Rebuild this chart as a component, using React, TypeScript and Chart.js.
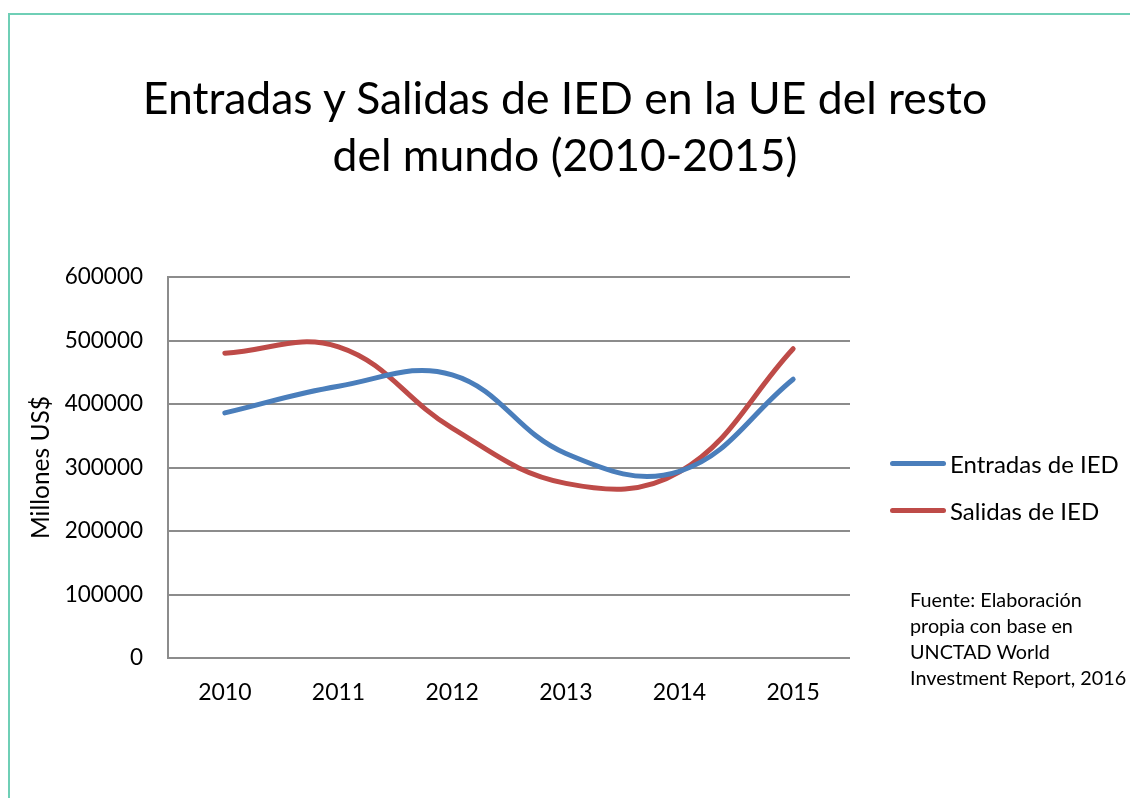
import React, { useEffect, useRef } from "react";
import { Chart, registerables } from "chart.js";

Chart.register(...registerables);

const years = ["2010", "2011", "2012", "2013", "2014", "2015"];
const entradas = [386000, 428000, 446000, 322000, 294000, 439000];
const salidas = [480000, 490000, 362000, 275000, 293000, 487000];
const yTicks = [0, 100000, 200000, 300000, 400000, 500000, 600000];
const titleLines = ["Entradas y Salidas de IED en la UE del resto", "del mundo (2010-2015)"];
const legendLabels = ["Entradas de IED", "Salidas de IED"];
const seriesColors = ["#4a7ebb", "#be4b48"];
const footnoteLines = ["Fuente: Elaboración", "propia con base en", "UNCTAD World", "Investment Report, 2016"];

const FONT = "Lato, 'Open Sans', sans-serif";

export default function App() {
  const canvasRef = useRef<HTMLCanvasElement | null>(null);

  useEffect(() => {
    if (!canvasRef.current) return;
    const chart = new Chart(canvasRef.current, {
      type: "line",
      data: {
        labels: years,
        datasets: [
          {
            label: legendLabels[0],
            data: entradas,
            borderColor: seriesColors[0],
            backgroundColor: seriesColors[0],
            borderWidth: 5,
            pointRadius: 0,
            tension: 0.4,
            borderCapStyle: "round",
          },
          {
            label: legendLabels[1],
            data: salidas,
            borderColor: seriesColors[1],
            backgroundColor: seriesColors[1],
            borderWidth: 5,
            pointRadius: 0,
            tension: 0.4,
            borderCapStyle: "round",
          },
        ],
      },
      options: {
        animation: false,
        responsive: false,
        maintainAspectRatio: false,
        layout: { padding: { left: 0, right: 280, top: 277, bottom: 0 } },
        plugins: {
          legend: { display: false },
          tooltip: { enabled: false },
          title: { display: false },
        },
        scales: {
          x: {
            offset: true,
            grid: { display: false, drawTicks: false },
            border: { display: false },
            ticks: {
              color: "#000",
              font: { family: FONT, size: 23 },
              padding: 21,
              maxRotation: 0,
            },
            afterFit: (scale: any) => {
              scale.height = 140;
            },
          },
          y: {
            min: 0,
            max: 600000,
            afterBuildTicks: (scale: any) => {
              scale.ticks = yTicks.map((v) => ({ value: v }));
            },
            grid: { color: "#8c8c8c", lineWidth: 2, drawTicks: false },
            border: { display: true, color: "#8c8c8c", width: 2 },
            ticks: {
              color: "#000",
              font: { family: FONT, size: 22.5 },
              padding: 25,
              callback: (v: any) => String(v),
            },
            title: {
              display: true,
              text: "Millones US$",
              color: "#000",
              font: { family: FONT, size: 24.5 },
              padding: { top: 26, bottom: 0 },
            },
            afterFit: (scale: any) => {
              scale.width = 168;
            },
          },
        },
      },
    });
    return () => chart.destroy();
  }, []);

  return (
    <div style={{ position: "fixed", left: 0, top: 0, width: 1130, height: 798, background: "#fff", overflow: "hidden" }}>
      <div
        style={{
          position: "absolute",
          left: 8,
          top: 13,
          width: 1200,
          height: 900,
          borderLeft: "2px solid #6fcfb6",
          borderTop: "2px solid #6fcfb6",
        }}
      />
      <canvas ref={canvasRef} width={1130} height={798} style={{ position: "absolute", left: 0, top: 0 }} />
      <div
        style={{
          position: "absolute",
          left: 0,
          top: 68,
          width: 1130,
          textAlign: "center",
          fontFamily: FONT,
          fontSize: 44.5,
          lineHeight: "57px",
          color: "#000",
          whiteSpace: "nowrap",
        }}
      >
        {titleLines.map((l) => (
          <div key={l}>{l}</div>
        ))}
      </div>
      {legendLabels.map((lab, i) => (
        <div
          key={lab}
          style={{
            position: "absolute",
            left: 890,
            top: 463 + i * 47 - 15,
            height: 30,
            display: "flex",
            alignItems: "center",
            fontFamily: FONT,
            fontSize: 24,
            color: "#000",
            whiteSpace: "nowrap",
          }}
        >
          <span style={{ display: "inline-block", width: 56, height: 5, borderRadius: 3, background: seriesColors[i], marginRight: 4 }} />
          {lab}
        </div>
      ))}
      <div
        style={{
          position: "absolute",
          left: 910,
          top: 586,
          fontFamily: FONT,
          fontSize: 19.8,
          lineHeight: "26px",
          color: "#000",
          whiteSpace: "nowrap",
        }}
      >
        {footnoteLines.map((l) => (
          <div key={l}>{l}</div>
        ))}
      </div>
    </div>
  );
}
